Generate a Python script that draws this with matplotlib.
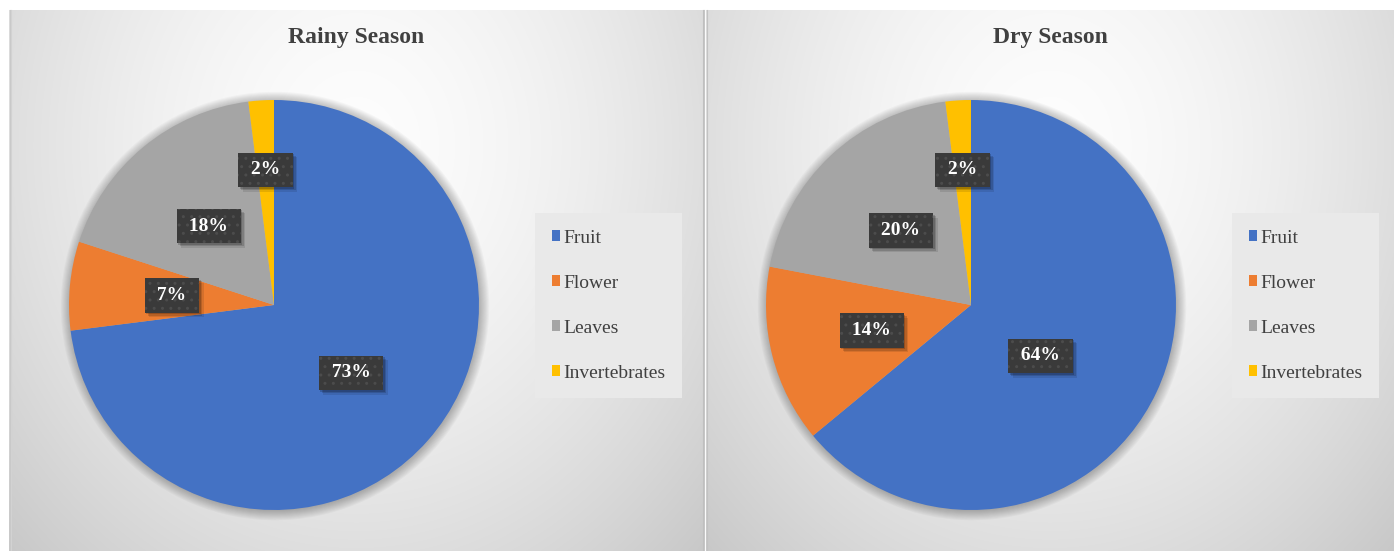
import numpy as np
import matplotlib
matplotlib.use("Agg")
import matplotlib.pyplot as plt
from matplotlib.patches import Patch, Circle
from matplotlib.lines import Line2D
import matplotlib.transforms as mtransforms

# ---- data ----
categories = ["Fruit", "Flower", "Leaves", "Invertebrates"]
rainy = [73, 7, 18, 2]
dry = [64, 14, 20, 2]
titles = ["Rainy Season", "Dry Season"]
colors = ["#4472C4", "#ED7D31", "#A5A5A5", "#FFC000"]

# label placement per slice: (radius fraction, angle shift in degrees)
rainy_label_pos = [(0.5, 0), (0.5, 0), (0.5, 0), (0.66, 0)]
dry_label_pos = [(0.42, -11), (0.5, 0), (0.5, 0), (0.66, 0)]

SERIF = ["Liberation Serif", "DejaVu Serif"]
W, H = 1394, 551
fig = plt.figure(figsize=(W / 100, H / 100), dpi=100)
fig.patch.set_facecolor("white")


def px_axes(x0, y0, w, h):
    """Axes placed by top-left pixel coordinates."""
    return fig.add_axes([x0 / W, 1 - (y0 + h) / H, w / W, h / H])


def panel_background(x0, y0, w, h):
    ax = px_axes(x0, y0, w, h)
    u = np.linspace(0, 1, w)[None, :]
    v = np.linspace(0, 1, h)[:, None]
    d = np.sqrt(((u - 0.5) * 2) ** 2 + ((v - 0.25) / 0.75) ** 2)
    g = np.clip(253 - 30.3 * d ** 1.61, 0, 255) / 255.0
    img = np.dstack([g, g, g])
    ax.imshow(img, extent=(0, 1, 0, 1), aspect="auto", interpolation="bilinear")
    ax.set_xlim(0, 1)
    ax.set_ylim(0, 1)
    ax.axis("off")
    return ax


def draw_panel(x0, w, values, title, label_pos, pie_cx, legend_x):
    y0 = 10
    h = H - y0
    panel_background(x0, y0, w, h)

    R = 205
    box = 480
    ax = px_axes(pie_cx - box / 2, 305 - box / 2, box, box)

    # soft shadow around the pie
    for i in range(10):
        ax.add_patch(Circle((0.005, -0.005), 1.0 + 0.005 * i, color="black",
                            alpha=0.028, lw=0, zorder=0))

    wedges, _ = ax.pie(values, colors=colors, startangle=90, counterclock=False,
                       radius=1.0, wedgeprops=dict(linewidth=0))
    for wdg in wedges:
        wdg.set_zorder(2)

    lim = box / 2 / R
    ax.set_xlim(-lim, lim)
    ax.set_ylim(-lim, lim)
    ax.set_aspect("equal")
    ax.axis("off")

    for wdg, val, (rf, shift) in zip(wedges, values, label_pos):
        ang = np.deg2rad((wdg.theta1 + wdg.theta2) / 2 + shift)
        x, y = rf * np.cos(ang), rf * np.sin(ang)
        txt = f"\u2009{val}%\u2009"
        for k, a in zip(range(1, 4), (0.18, 0.14, 0.10)):
            tr = mtransforms.offset_copy(ax.transData, fig=fig, x=1.5 * k,
                                         y=-1.5 * k, units="dots")
            ax.text(x, y, txt, transform=tr, ha="center", va="center",
                    fontsize=14, fontweight="bold", family=SERIF, color="none",
                    zorder=3,
                    bbox=dict(boxstyle="square,pad=0.45", fc="black",
                              ec="none", alpha=a))
        ax.text(x, y, txt, ha="center", va="center", fontsize=14,
                fontweight="bold", family=SERIF, color="white", zorder=4,
                bbox=dict(boxstyle="square,pad=0.45", fc="#3a3a3a",
                          ec="#4c4c4c", lw=0, hatch=".."))

    fig.text((x0 + w / 2) / W, 1 - 37 / H, title, ha="center", va="center",
             fontsize=17, fontweight="bold", family=SERIF, color="#404040")

    handles = [Patch(facecolor=c, edgecolor="none") for c in colors]
    leg = fig.legend(handles, categories, loc="upper left",
                     bbox_to_anchor=(legend_x / W, 1 - 213 / H),
                     frameon=True, fancybox=False, facecolor="#e9e9e9",
                     edgecolor="none", framealpha=1,
                     prop=dict(family=SERIF, size=14), labelcolor="#404040",
                     handlelength=0.45, handleheight=0.45, handletextpad=0.15,
                     labelspacing=1.44, borderpad=0.85, borderaxespad=0)
    leg.get_frame().set_linewidth(0)


draw_panel(9, 695, rainy, titles[0], rainy_label_pos, 274, 535)
draw_panel(706, 688, dry, titles[1], dry_label_pos, 971, 1232)

# panel edges
for xp, col in [(9.5, "#c9c9c9"), (10.5, "#d2d2d2"), (702.5, "#bfbfbf"),
                (703.5, "#c6c6c6"), (706.5, "#c2c2c2")]:
    fig.add_artist(Line2D([xp / W, xp / W], [0, 1 - 10 / H], color=col,
                          lw=0.8, transform=fig.transFigure))

fig.savefig("out.png", dpi=100, facecolor="white")
